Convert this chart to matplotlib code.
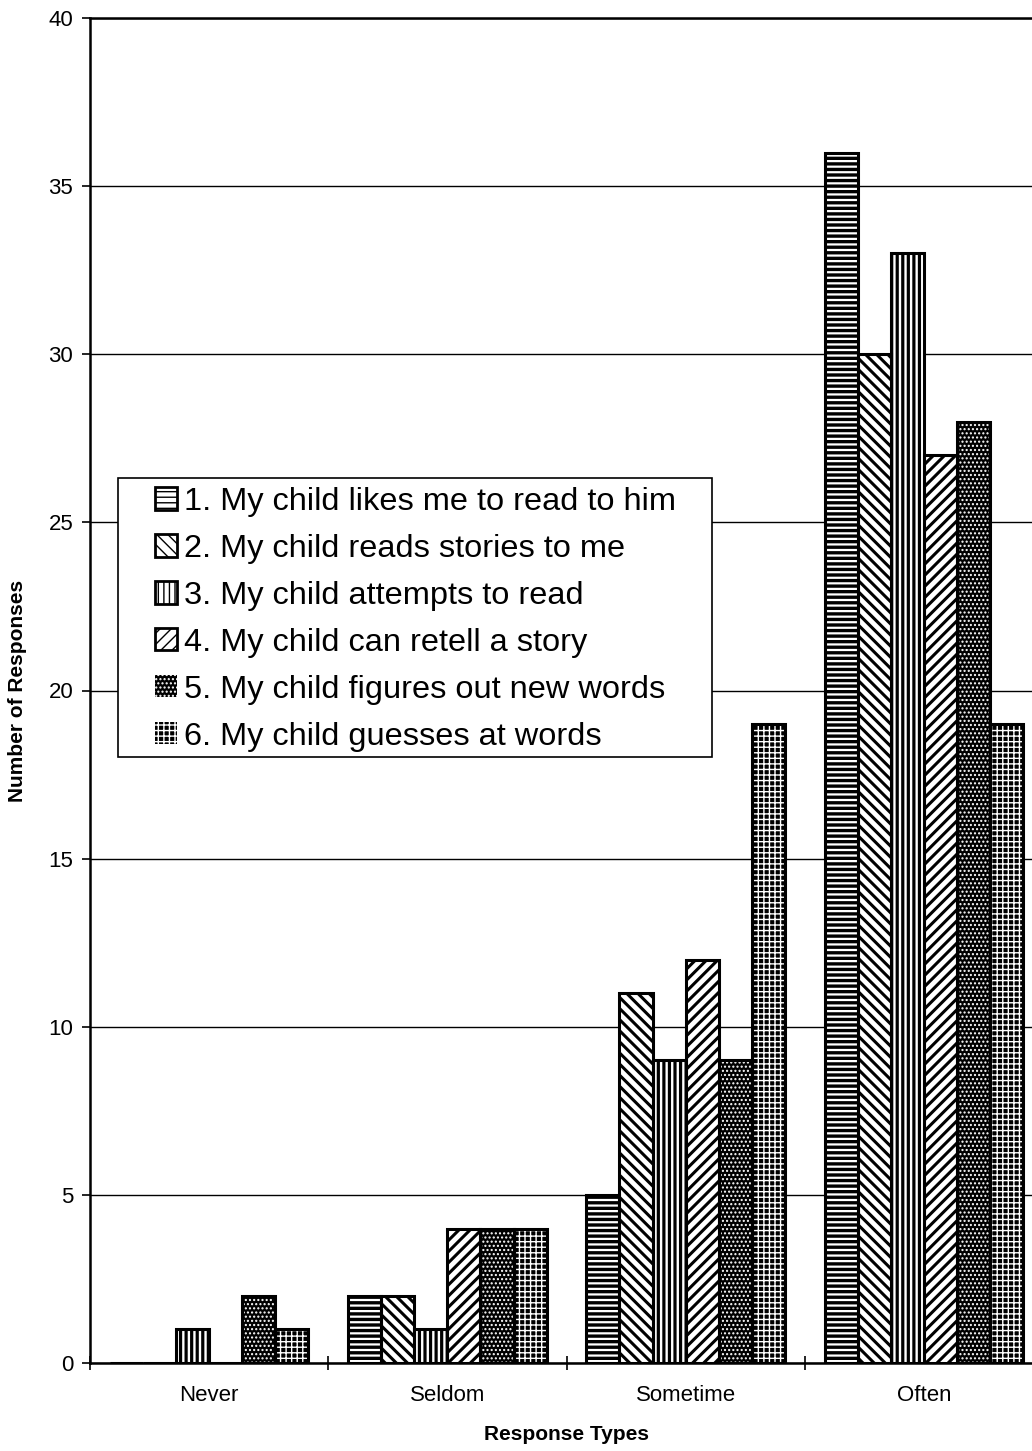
import matplotlib
matplotlib.use("Agg")
import matplotlib.pyplot as plt
from matplotlib.patches import Rectangle
import numpy as np

plt.rcParams['font.family'] = ['Liberation Sans', 'DejaVu Sans']

categories = ["Never", "Seldom", "Sometime", "Often"]
series_labels = [
    "1. My child likes me to read to him",
    "2. My child reads stories to me",
    "3. My child attempts to read",
    "4. My child can retell a story",
    "5. My child figures out new words",
    "6. My child guesses at words",
]
s1 = [0, 2, 5, 36]
s2 = [0, 2, 11, 30]
s3 = [1, 1, 9, 33]
s4 = [0, 4, 12, 27]
s5 = [2, 4, 9, 28]
s6 = [1, 4, 19, 19]
series = [s1, s2, s3, s4, s5, s6]

# style: (face, hatch colour, hatch, hatch linewidth)
styles = [
    ("white", "black", "---", 2.4),
    ("white", "black", "\\\\\\", 2.2),
    ("white", "black", "|||", 2.3),
    ("white", "black", "///", 2.2),
    ("black", "white", "....", 1.0),
    ("black", "white", "+++", 1.0),
]

fig = plt.figure(figsize=(10.32, 14.51), dpi=100)
ax = fig.add_axes([90/1032, 1 - 1363/1451, 953/1032, 1345/1451])

x = np.arange(len(categories))
w = 0.139
handles = []
for i, (vals, (fc, hc, h, hlw)) in enumerate(zip(series, styles)):
    pos = x + (i - 2.5) * w
    with plt.rc_context({'hatch.linewidth': hlw}):
        ax.bar(pos, vals, width=w, color=fc, edgecolor=hc, hatch=h, linewidth=0, zorder=3)
        hp = Rectangle((0, 0), 1, 1, facecolor=fc, edgecolor=hc, hatch=h,
                       linewidth=2.0 if fc == "white" else 0)
    ax.bar(pos, vals, width=w, fill=False, edgecolor="black", linewidth=2.2, zorder=4)
    handles.append(hp)

ax.set_xlim(-0.5, 3.5)
ax.set_ylim(0, 40)
ax.set_yticks(np.arange(0, 41, 5))
ax.yaxis.grid(True, color="black", linewidth=1.0, zorder=0)
ax.set_axisbelow(True)

ax.set_xticks(x)
ax.set_xticklabels(categories, fontsize=16)
ax.tick_params(axis='x', which='major', length=0, pad=16)
ax.set_xticks(np.arange(-0.5, 4.0, 1.0), minor=True)
ax.tick_params(axis='x', which='minor', length=10, direction='inout', width=1.2)
ax.tick_params(axis='y', labelsize=16, length=6, width=1.2, direction='out', pad=6)

for s in ["left", "bottom", "top"]:
    ax.spines[s].set_linewidth(1.8)
ax.spines["right"].set_visible(False)

ax.set_xlabel("Response Types", fontsize=15, fontweight="bold")
ax.set_ylabel("Number of Responses", fontsize=15, fontweight="bold")
ax.xaxis.set_label_coords(0.5, -(1435 - 1363) / 1345)
ax.xaxis.label.set_va("center")
ax.yaxis.set_label_coords(-(90 - 18) / 953, 0.5)
ax.yaxis.label.set_va("center")

# legend box (frame drawn separately for asymmetric padding)
box = Rectangle(((118 - 90) / 953, (1363 - 757) / 1345), (712 - 118) / 953, (757 - 478) / 1345,
                transform=ax.transAxes, facecolor="white", edgecolor="black",
                linewidth=1.2, zorder=9, clip_on=False)
ax.add_patch(box)
leg = ax.legend(handles, series_labels, loc="upper left",
                bbox_to_anchor=((155 - 90) / 953, (1363 - 487) / 1345),
                borderaxespad=0, borderpad=0, fontsize=23.4, frameon=False,
                handlelength=0.68, handleheight=0.68,
                handletextpad=0.22, labelspacing=0.52)
leg.set_zorder(10)

fig.savefig("out.png", dpi=100)
